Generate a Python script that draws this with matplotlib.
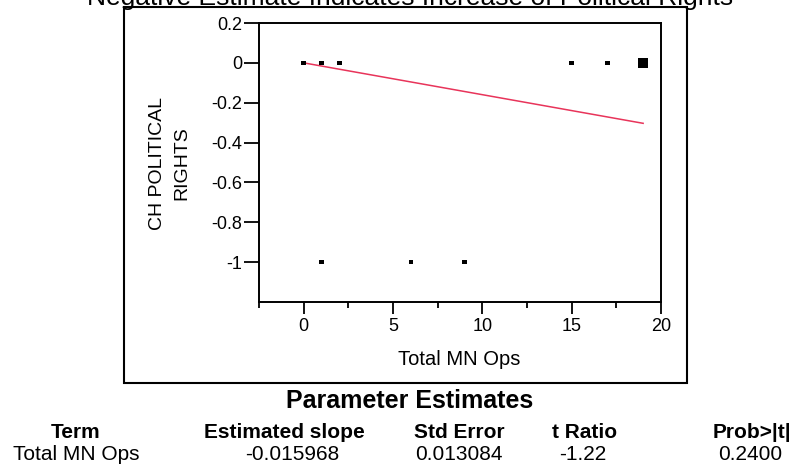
import numpy as np
import matplotlib
matplotlib.use("Agg")
import matplotlib.pyplot as plt
from matplotlib.patches import Rectangle

plt.rcParams['font.family'] = ['Liberation Sans', 'DejaVu Sans']
plt.rcParams['axes.unicode_minus'] = False

# observations (Total MN Ops vs change in political rights)
mn_ops = [0, 1, 2, 15, 17, 19, 1, 6, 9]
ch_rights = [0, 0, 0, 0, 0, 0, -1, -1, -1]
n_obs = [1, 1, 1, 1, 1, 4, 1, 1, 1]   # overlapping points at x=19

# fitted line
intercept = 0.0
slope = -0.015968
fit_range = [0, 19]

# parameter estimates table
headers = ["Term", "Estimated slope", "Std Error", "t Ratio", "Prob>|t|"]
term = "Total MN Ops"
std_err = 0.013084
t_ratio = -1.22
p_value = 0.2400

title = "Negative Estimate Indicates Increase of Political Rights"

W, H = 795, 468


def fx(px):
    return px / W


def fy(py):
    return 1 - py / H


fig = plt.figure(figsize=(W / 100, H / 100), dpi=100)
ax = fig.add_axes([fx(259), fy(302), fx(661) - fx(259), fy(23) - fy(302)])

sizes = [11 if n == 1 else 45 for n in n_obs]
ax.scatter(mn_ops, ch_rights, s=sizes, marker='s', c='black', linewidths=0, zorder=3)

xf = np.array(fit_range, dtype=float)
ax.plot(xf, intercept + slope * xf, color='#e8345a', lw=1.1, zorder=2)

ax.set_xlim(-2.5, 20)
ax.set_ylim(-1.2, 0.2)
ax.set_xticks([0, 5, 10, 15, 20])
ax.set_xticks([-2.5, 2.5, 7.5, 12.5, 17.5], minor=True)
yt = [-1, -0.8, -0.6, -0.4, -0.2, 0, 0.2]
ax.set_yticks(yt)
ax.set_yticklabels(["-1", "-0.8", "-0.6", "-0.4", "-0.2", "0", "0.2"])
for s in ax.spines.values():
    s.set_linewidth(1.4)
ax.tick_params(axis='x', which='major', length=8.6, width=1.3, pad=3, labelsize=13)
ax.tick_params(axis='x', which='minor', length=4.3, width=1.3)
ax.tick_params(axis='y', which='major', length=10.8, width=1.3, pad=1.5, labelsize=13)

# axis labels placed in figure pixels
fig.text(fx(459), fy(365), "Total MN Ops", ha='center', va='baseline', fontsize=14.5)
fig.text(fx(170), fy(163), "CH POLITICAL\nRIGHTS", ha='center', va='center',
         rotation=90, fontsize=14, linespacing=1.55, multialignment='center')

# outer frame and clipped title
fig.add_artist(Rectangle((fx(124), fy(383)), fx(687) - fx(124), fy(7) - fy(383),
                         transform=fig.transFigure, fill=False, lw=1.5, ec='black'))
fig.text(fx(410), fy(5), title, ha='center', va='baseline', fontsize=19)

# table
fig.text(fx(410), fy(408), "Parameter Estimates", ha='center', va='baseline',
         fontsize=18, fontweight='bold')
head_x = [76, 284, 459, 585, 752]
for hx, h in zip(head_x, headers):
    fig.text(fx(hx), fy(438), h, ha='center', va='baseline', fontsize=15, fontweight='bold')
values = [term, "%.6f" % slope, "%.6f" % std_err, "%.2f" % t_ratio, "%.4f" % p_value]
val_x = [76, 292, 459, 583, 750]
for vx, v in zip(val_x, values):
    fig.text(fx(vx), fy(460), v, ha='center', va='baseline', fontsize=15)

fig.savefig("out.png", dpi=100)
